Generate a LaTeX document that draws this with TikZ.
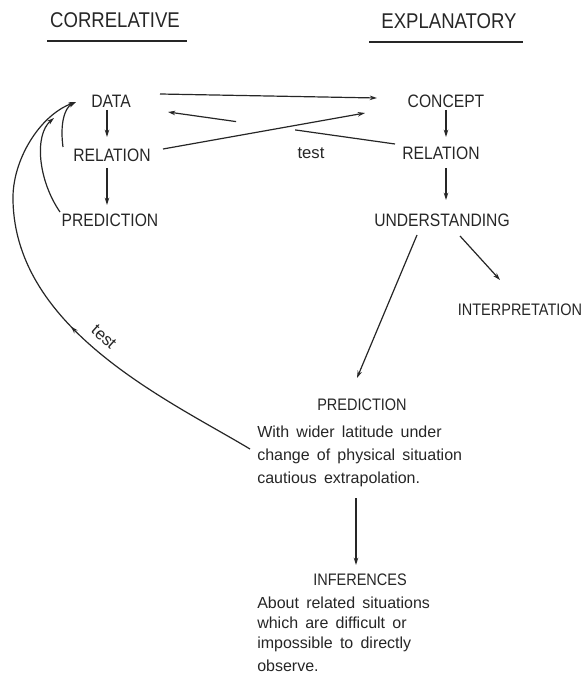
\documentclass[tikz,border=0pt]{standalone}
\usepackage{fontspec}
\setmainfont{Liberation Sans}
\newfontfamily\capsfont[FakeStretch=0.87]{Liberation Sans}
\usetikzlibrary{arrows.meta,calc,decorations.markings}

\begin{document}
\begin{tikzpicture}[x=0.75pt, y=-0.75pt,
    every node/.style={inner sep=0pt, text=black!85},
    head/.style={font=\capsfont\fontsize{16}{18}\selectfont},
    lab/.style={font=\capsfont\fontsize{13.5}{16}\selectfont},
    lab2/.style={font=\capsfont\fontsize{12.5}{15}\selectfont},
    tst/.style={font=\fontsize{12.5}{15}\selectfont},
    txt/.style={font={\fontsize{12}{17.25}\selectfont\spaceskip=0.45em\relax}, align=left, anchor=north west},
    txt2/.style={font={\fontsize{12}{15}\selectfont\spaceskip=0.45em\relax}, align=left, anchor=north west},
    ln/.style={black!85, line width=0.9pt},
    arr/.style={ln, -{Stealth[length=5.5pt,width=3.4pt]}},
    ul/.style={black!85, line width=1.9pt}]

    \useasboundingbox (0,0) rectangle (584,673);

    % Headings
    \node[head] (corr) at (115,20) {CORRELATIVE};
    \node[head] (expl) at (449,21) {EXPLANATORY};
    \draw[ul] ($(corr)+(-68,21)$) -- ($(corr)+(72,21)$);
    \draw[ul] ($(expl)+(-80,21)$) -- ($(expl)+(74,21)$);

    % Correlative column
    \node[lab] (D1) at (111,101) {DATA};
    \node[lab] (R1) at (112,155) {RELATION};
    \node[lab] (P1) at (110,220) {PREDICTION};

    % Explanatory column
    \node[lab] (C2) at (446,101) {CONCEPT};
    \node[lab] (R2) at (441,153) {RELATION};
    \node[lab] (U2) at (442,220) {UNDERSTANDING};
    \node[lab2] (I2) at (520,310) {INTERPRETATION};
    \node[lab2] (P2) at (362,405) {PREDICTION};
    \node[txt] (para1) at (257,426) {With wider latitude under\\change of physical situation\\cautious extrapolation.};
    \node[lab2] (F3) at (360,580) {INFERENCES};
    \node[txt2] (para2) at (257,597) {About related situations\\which are difficult or\\impossible to directly\\[2pt]observe.};

    \node[tst] (t1) at (311,153) {test};
    \node[tst, rotate=-42] (t2) at (104,337) {test};

    % Arrows down the columns
    \draw[arr] ($(D1)+(-4,9)$) -- ($(R1)+(-5,-18)$);
    \draw[arr] ($(R1)+(-5,13)$) -- ($(P1)+(-3,-15)$);
    \draw[arr] ($(C2)+(0,9)$) -- ($(R2)+(5,-16)$);
    \draw[arr] ($(R2)+(5,15)$) -- ($(U2)+(4,-20)$);
    \draw[arr] ($(U2)+(18,16)$) -- ($(I2)+(-20,-30)$);
    \draw[arr] ($(U2)+(-25,15)$) -- ($(P2)+(-5,-27)$);
    \draw[arr] ($(para1.north west)+(99,72)$) -- ($(F3)+(-4,-15)$);

    % Across
    \draw[arr] ($(D1)+(49,-7)$) -- ($(C2)+(-69,-3)$);
    \draw[arr] ($(R1)+(51,-6)$) -- ($(C2)+(-81,12)$);
    \coordinate (ts) at ($(R2)+(-46,-9)$);
    \coordinate (te) at ($(D1)+(57,11)$);
    \draw[ln] (ts) -- ($(ts)!0.44!(te)$);
    \draw[arr] ($(ts)!0.70!(te)$) -- (te);

    % Back to data
    \draw[arr, postaction={decorate},
        decoration={markings, mark=at position 0.45 with {\arrow{Stealth[length=5.5pt,width=3.4pt]}}}]
        ($(para1.north west)+(-7,23)$) .. controls +(-80,-48) and +(2,130) .. ($(P1)+(-97,-20)$)
        .. controls +(-1,-40) and +(-36,13) .. ($(D1)+(-35,1)$);
    \draw[arr] ($(P1)+(-50,-8)$) .. controls +(-22,-32) and +(-20,17) .. ($(D1)+(-57,17)$);
    \draw[arr] ($(R1)+(-49,-8)$) .. controls +(-3,-22) and +(-12,6) .. ($(D1)+(-35,1)$);

\end{tikzpicture}
\end{document}
